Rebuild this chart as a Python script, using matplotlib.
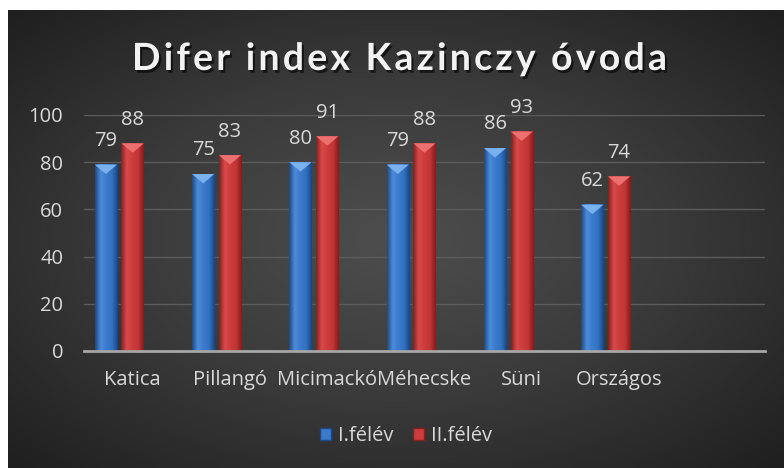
import numpy as np
import matplotlib
matplotlib.use("Agg")
import matplotlib.pyplot as plt
import matplotlib.patheffects as pe
from matplotlib.patches import Patch, Polygon, PathPatch
from matplotlib.colors import LinearSegmentedColormap
from matplotlib.textpath import TextPath
from matplotlib.path import Path
from matplotlib.font_manager import FontProperties, findfont, get_font
from matplotlib.transforms import Affine2D

# data
categories = ["Katica", "Pillangó", "Micimackó", "Méhecske", "Süni", "Országos"]
felev1 = [79, 75, 80, 79, 86, 62]
felev2 = [88, 83, 91, 88, 93, 74]
series_names = ["I.félév", "II.félév"]
title = "Difer index Kazinczy óvoda"

FONT = "Open Sans"
FS = 14.5
TXT = "#d9d9d9"
W, H = 784, 468

fig = plt.figure(figsize=(W/100, H/100), dpi=100)
fig.patch.set_facecolor("white")

# radial gradient background panel
bg = fig.add_axes([8/W, 0, 776/W, 458/H])
bg.set_axis_off()
yy, xx = np.mgrid[-1:1:300j, -1:1:500j]
r = np.sqrt(xx**2 + yy**2) / np.sqrt(2)
bg_cmap = LinearSegmentedColormap.from_list("bg", ["#4e4e4e", "#3a3a3a", "#1f1f1f"])
bg.imshow(r, cmap=bg_cmap, aspect="auto", extent=[0, 1, 0, 1], vmin=0, vmax=1)
bg.set_xlim(0, 1)
bg.set_ylim(0, 1)

ax = fig.add_axes([84/W, 1 - 351/H, 681/W, 236/H])
ax.patch.set_alpha(0)

blue_cm = LinearSegmentedColormap.from_list("b", ["#1d4a86", "#4c8cda", "#3c7acc", "#3272c0", "#1c4580"])
red_cm = LinearSegmentedColormap.from_list("r", ["#852020", "#da4a4a", "#cc3c3c", "#c23636", "#7e1e1e"])
grad = np.linspace(0, 1, 64).reshape(1, -1)

width = 0.23
shift = 0.275  # 3d perspective offset of first series
cap = 4.0


def draw_bars(xs, vals, cm, cap_color):
    for x, v in zip(xs, vals):
        x0, x1 = x - width/2, x + width/2
        ax.imshow(grad, cmap=cm, aspect="auto", extent=[x0, x1, 0, v], zorder=3)
        ax.add_patch(Polygon([[x0, v], [x1, v], [x, v - cap]], closed=True,
                             facecolor=cap_color, edgecolor="none", zorder=4))
        ax.text(x, v + 10, str(v), ha="center", va="center", fontsize=FS,
                color=TXT, family=FONT, zorder=5)


idx = np.arange(len(categories))
draw_bars(idx - shift, felev1, blue_cm, "#79b0ee")
draw_bars(idx, felev2, red_cm, "#ec7070")

ax.set_xlim(-0.5, len(categories) + 0.5)
ax.set_ylim(0, 100)
ax.set_yticks(range(0, 101, 20))
ax.set_xticks(idx)
ax.set_xticklabels(categories)
ax.grid(axis="y", color="#5c5c5c", linewidth=1)
ax.set_axisbelow(True)
for s in ["top", "right", "left"]:
    ax.spines[s].set_visible(False)
ax.spines["bottom"].set_color("#a6a6a6")
ax.spines["bottom"].set_linewidth(2)
ax.spines["bottom"].set_zorder(6)
ax.tick_params(axis="y", length=0, labelsize=FS, labelcolor=TXT, pad=15)
ax.tick_params(axis="x", length=0, labelsize=FS, labelcolor=TXT, pad=14)
for lbl in ax.get_xticklabels() + ax.get_yticklabels():
    lbl.set_family(FONT)

# title with letter spacing, built glyph by glyph
tprop = FontProperties(family="Lato", weight="bold")
tsize = 27 * 100 / 72
tfont = get_font(findfont(tprop))
tfont.set_size(tsize, 72)
adv = [tfont.load_char(ord(c)).linearHoriAdvance / 65536 for c in title]
spacing = (535 - sum(adv)) / (len(title) - 1)
verts, codes = [], []
xpos = 0
for c, a in zip(title, adv):
    if c != " ":
        tp = TextPath((xpos, 0), c, size=tsize, prop=tprop)
        verts.append(tp.vertices)
        codes.append(tp.codes)
    xpos += a + spacing
tpath = Path(np.concatenate(verts), np.concatenate(codes))
ttrans = Affine2D().translate(132, H - 70).scale(1/W, 1/H) + fig.transFigure
tpatch = PathPatch(tpath, facecolor="#f2f2f2", edgecolor="none", transform=ttrans,
                   path_effects=[pe.SimplePatchShadow(offset=(1.5, -2), shadow_rgbFace="black", alpha=0.6),
                                 pe.Normal()])
fig.add_artist(tpatch)

handles = [Patch(facecolor="#3c7acc", edgecolor="#1d4a86"),
           Patch(facecolor="#cc3c3c", edgecolor="#852020")]
fig.legend(handles, series_names, loc="center", bbox_to_anchor=(406/W, 1 - 436/H),
           ncol=2, frameon=False, handlelength=0.55, handleheight=0.55, handletextpad=0.35,
           columnspacing=1.0, prop={"family": FONT, "size": FS}, labelcolor=TXT)

fig.savefig("out.png", dpi=100)
